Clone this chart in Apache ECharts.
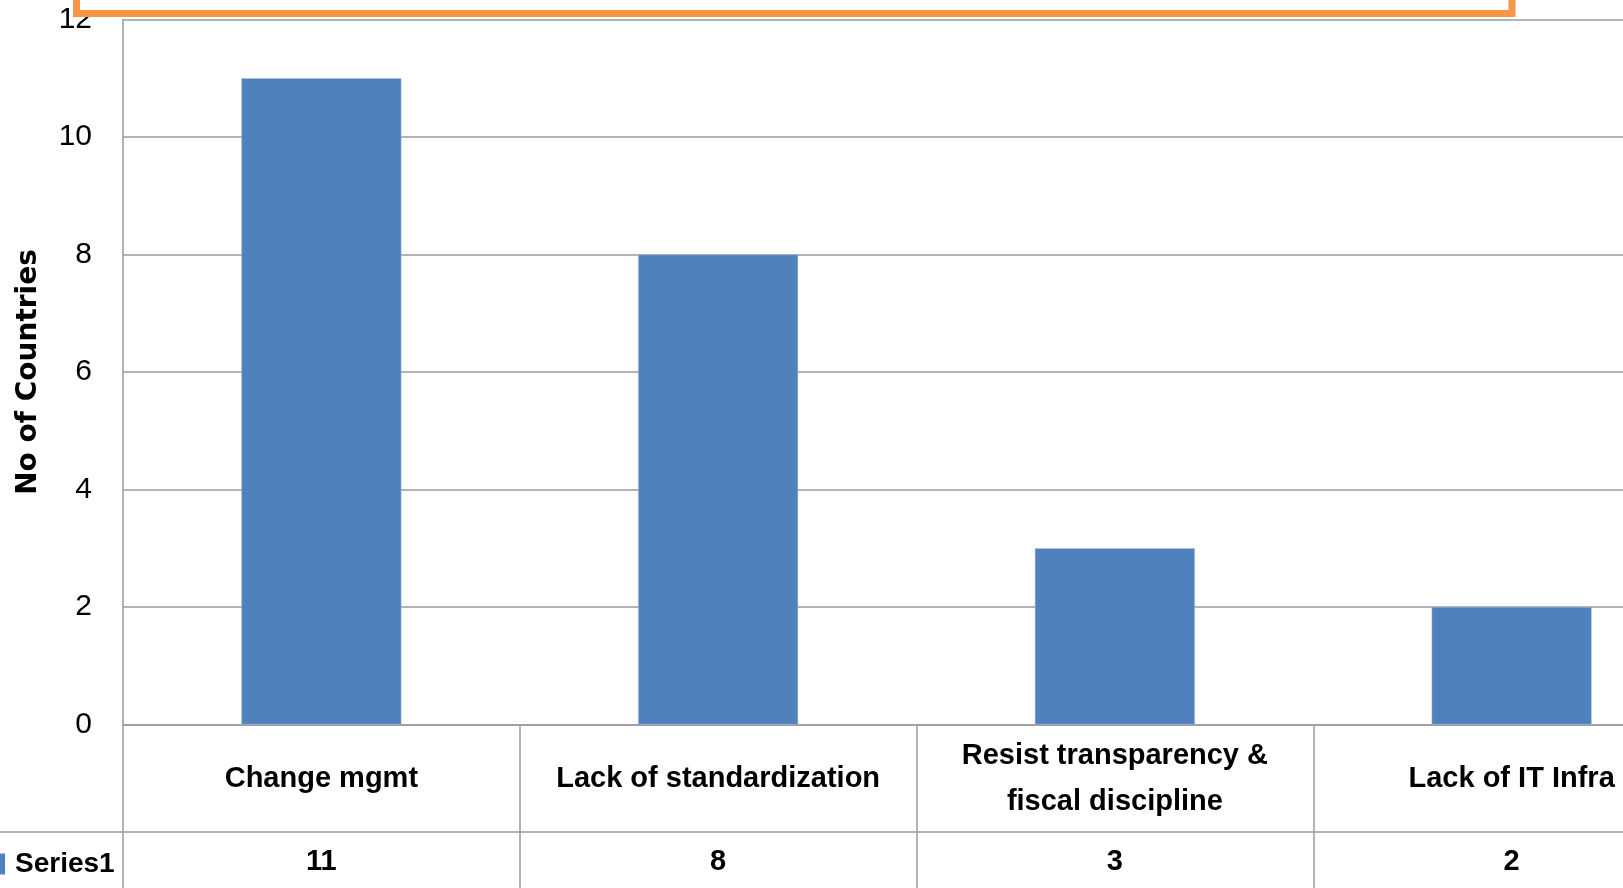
<!DOCTYPE html>
<html>
<head>
<meta charset="utf-8">
<script src="https://cdn.jsdelivr.net/npm/echarts@6/dist/echarts.min.js"></script>
<style>
html,body{margin:0;padding:0;background:#fff;overflow:hidden;width:1623px;height:888px;}
#chart{width:1710px;height:888px;}
</style>
</head>
<body>
<div id="chart"></div>
<script>
var categories = ['Change mgmt', 'Lack of standardization', 'Resist transparency &\nfiscal discipline', 'Lack of IT Infra'];
var seriesName = 'Series1';
var values = [11, 8, 3, 2];
var yMin = 0, yMax = 12, yStep = 2;
var yAxisTitle = 'No of Countries';

var gridColor = '#9a9a9a';
var barColor = '#4F81BD';
var chart = echarts.init(document.getElementById('chart'));
chart.setOption({
  animation: false,
  backgroundColor: '#ffffff',
  grid: { left: 123, top: 19.5, right: 0, height: 705, containLabel: false },
  legend: {
    data: [seriesName], left: 0, top: 850, padding: 0,
    icon: 'rect', itemWidth: 5, itemHeight: 21, selectedMode: false,
    itemStyle: { borderWidth: 0 },
    textStyle: { fontFamily: 'Liberation Sans', fontWeight: 'bold', fontSize: 28, color: '#000', padding: [0, 0, 0, 5] }
  },
  xAxis: [{
    type: 'category', data: categories, position: 'bottom',
    axisLine: { show: true, lineStyle: { color: gridColor, width: 1.5 } },
    axisTick: { show: true, interval: 0, length: 170, lineStyle: { color: gridColor, width: 1.5 } },
    axisLabel: { interval: 0, margin: 54, verticalAlign: 'middle', lineHeight: 46,
      fontFamily: 'Liberation Sans', fontWeight: 'bold', fontSize: 29, color: '#000' },
    splitLine: { show: false }
  }, {
    type: 'category', data: values.map(String), position: 'bottom', offset: 0,
    axisLine: { show: false }, axisTick: { show: false },
    axisLabel: { interval: 0, margin: 137, verticalAlign: 'middle',
      fontFamily: 'Liberation Sans', fontWeight: 'bold', fontSize: 29, color: '#000' }
  }],
  yAxis: {
    type: 'value', min: yMin, max: yMax, interval: yStep,
    name: yAxisTitle, nameLocation: 'middle', nameRotate: 90, nameGap: 80,
    nameTextStyle: { fontFamily: 'DejaVu Sans', fontWeight: 'bold', fontSize: 28, color: '#000' },
    axisLine: { show: true, lineStyle: { color: gridColor, width: 1.5 } },
    axisTick: { show: false },
    axisLabel: { margin: 31, fontFamily: 'Liberation Sans', fontSize: 30, color: '#000' },
    splitLine: { show: true, lineStyle: { color: gridColor, width: 1.5 } }
  },
  series: [{
    name: seriesName, type: 'bar', data: values, barWidth: 160,
    itemStyle: { color: barColor, borderColor: '#a9c0e0', borderWidth: 0.5 }
  }],
  graphic: [
    { type: 'line', z: 50, shape: { x1: 0, y1: 832, x2: 1710, y2: 832 }, style: { stroke: gridColor, lineWidth: 1.5 } },
    { type: 'rect', z: 100, shape: { x: 76.5, y: -20, width: 1435.5, height: 33.5 },
      style: { fill: '#ffffff', stroke: '#F79646', lineWidth: 7 } }
  ]
});
</script>
</body>
</html>
